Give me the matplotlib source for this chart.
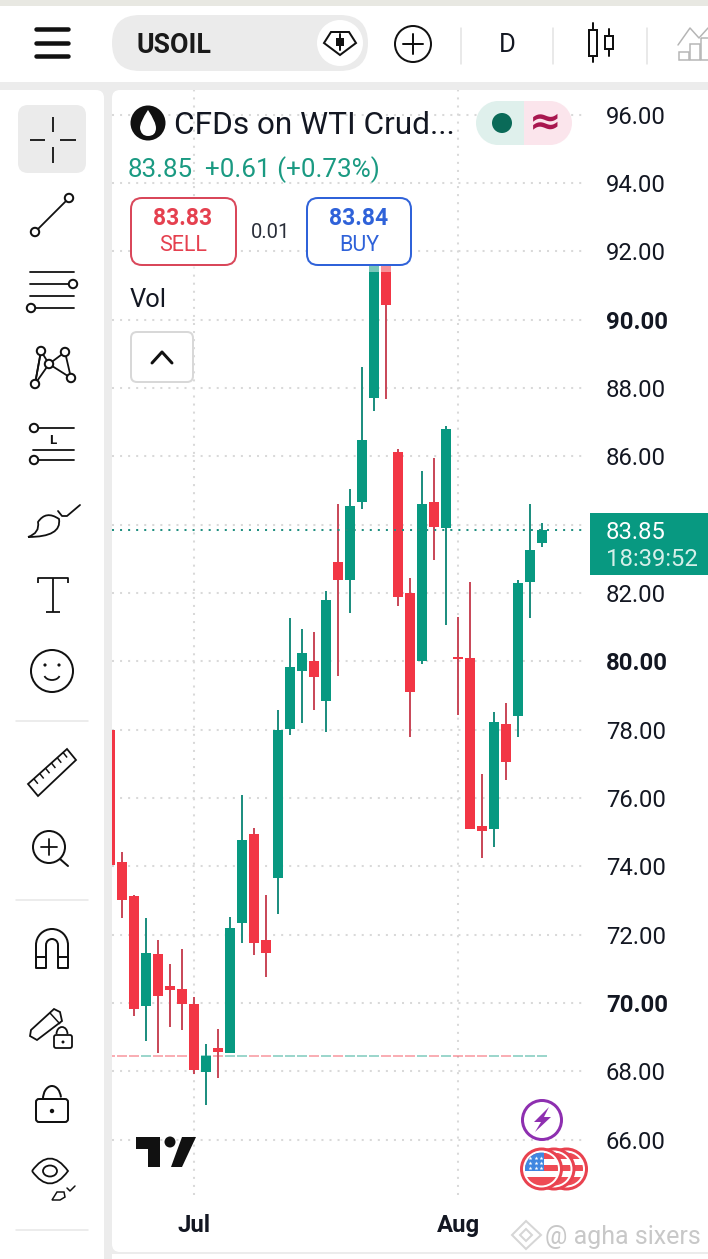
import numpy as np
import matplotlib
matplotlib.use('Agg')
import matplotlib.pyplot as plt
from matplotlib.patches import Circle, FancyBboxPatch, Polygon, Rectangle, Arc, PathPatch, Ellipse
from matplotlib.path import Path

plt.rcParams['font.family'] = ['Roboto', 'DejaVu Sans']

# daily candles
opens = [77.99, 74.13, 73.13, 69.91, 71.43, 70.50, 70.41, 69.97, 67.98, 68.68, 68.53, 72.34,
         74.94, 71.84, 73.66, 78.02, 79.71, 80.01, 78.84, 82.90, 82.38, 84.66, 87.70, 91.90,
         86.12, 82.00, 80.01, 84.66, 83.90, 80.12, 80.09, 75.18, 75.09, 78.16, 78.40, 82.32, 83.46]
highs = [77.99, 74.42, 73.16, 72.49, 71.84, 71.14, 71.58, 70.17, 68.80, 69.24, 72.51, 76.08,
         75.12, 73.16, 78.57, 81.26, 80.94, 80.86, 82.05, 84.60, 85.04, 88.61, 92.30, 92.10,
         86.21, 82.44, 85.57, 85.95, 86.88, 81.29, 82.32, 76.70, 78.51, 78.78, 82.38, 84.60, 84.05]
lows = [74.04, 72.49, 69.62, 68.89, 68.53, 69.30, 69.21, 67.92, 67.01, 67.80, 68.53, 71.75,
        71.40, 70.76, 72.60, 77.84, 78.19, 78.57, 77.93, 79.57, 81.41, 84.45, 87.32, 87.67,
        81.62, 77.78, 79.92, 82.96, 81.06, 78.43, 75.09, 74.24, 74.56, 76.52, 77.78, 81.26, 83.34]
closes = [74.04, 73.01, 69.82, 71.46, 70.20, 70.38, 69.97, 68.04, 68.45, 68.56, 72.19, 74.77,
          71.75, 71.46, 77.99, 79.83, 80.24, 79.54, 81.79, 82.38, 84.54, 86.47, 92.00, 90.42,
          81.88, 79.10, 84.60, 83.93, 86.80, 80.06, 75.09, 75.03, 78.22, 77.05, 82.29, 83.26, 83.84]

price_ticks = [66, 68, 70, 72, 74, 76, 78, 80, 82, 84, 86, 88, 90, 92, 94, 96]
bold_ticks = [70, 80, 90]
hidden_ticks = [84]  # sits under the last price label
month_pos = [7, 29]
month_labels = ['Jul', 'Aug']
last_price = 83.85
prev_close = 68.45

GREEN = '#089981'
RED = '#f23645'
GREEN_WICK = '#1f8f80'
RED_WICK = '#c94a5a'
W, H = 708, 1259
PX = 0.72

fig = plt.figure(figsize=(W / 100, H / 100), dpi=100, facecolor='white')


def px_axes(z):
    a = fig.add_axes([0, 0, 1, 1], zorder=z)
    a.set_xlim(0, W)
    a.set_ylim(H, 0)
    a.axis('off')
    return a


def rbox(a, x, y, w, h, r, **kw):
    p = FancyBboxPatch((x + r, y + r), w - 2 * r, h - 2 * r,
                       boxstyle=f'round,pad={r},rounding_size={r}', **kw)
    a.add_patch(p)
    return p


def stroke(a, xs, ys, lw=2.0, color='#111111', **kw):
    a.plot(xs, ys, color=color, lw=lw * PX, solid_capstyle=kw.pop('cap', 'round'), **kw)


def ring(a, x, y, r, lw=2.0, color='#111111', fc='white'):
    a.add_patch(Circle((x, y), r, fc=fc, ec=color, lw=lw * PX, zorder=5))


# ---- page background
bg = px_axes(0)
bg.add_patch(Rectangle((0, 0), W, 6, fc='#e8e8e2', ec='none'))
bg.add_patch(Rectangle((0, 82), W, 1177, fc='#ececec', ec='none'))
rbox(bg, -20, 90, 124, 1200, 8, fc='white', ec='none')
rbox(bg, 112, 90, 640, 1162, 8, fc='white', ec='none')
bg.add_patch(Rectangle((112, 1254), 596, 5, fc='white', ec='none'))

# ---- chart
x_left, x_right, y_top, y_bottom = 112, 587, 90, 1195
ax = fig.add_axes([x_left / W, 1 - y_bottom / H, (x_right - x_left) / W, (y_bottom - y_top) / H], zorder=1)
ax.patch.set_alpha(0)
for s in ax.spines.values():
    s.set_visible(False)
ax.set_xlim((x_left - 110) / 12, (x_right - 110) / 12)
ax.set_ylim(96 - (y_bottom - 114.5) / 34.17, 96 + (114.5 - y_top) / 34.17)

grid_style = dict(color='#d9d9d9', lw=1.45, linestyle=(0, (1, 3)), zorder=1)
for p in price_ticks:
    ax.axhline(p, **grid_style)
for m in month_pos:
    ax.axvline(m, **grid_style)

idx = np.arange(len(opens))
o, h, l, c = map(np.array, (opens, highs, lows, closes))
up = c >= o
body_col = [GREEN if u else RED for u in up]
wick_col = [GREEN_WICK if u else RED_WICK for u in up]

# per-bar coloured line at the previous close
ax.hlines([prev_close] * len(idx), idx - 0.42, idx + 0.42, colors=body_col, alpha=0.4, lw=2 * PX, zorder=2)
ax.vlines(idx, l, h, colors=wick_col, lw=2 * PX, zorder=3)
ax.bar(idx, np.maximum(np.abs(c - o), 0.06), bottom=np.minimum(o, c), width=10 / 12, color=body_col, zorder=4, lw=0)
ax.axhline(last_price, color=GREEN_WICK, lw=1.45, linestyle=(0, (1, 3)), zorder=5)

ax.yaxis.tick_right()
shown_ticks = [p for p in price_ticks if p not in hidden_ticks]
ax.set_yticks(shown_ticks)
ax.set_yticklabels([f'{p:.2f}' for p in shown_ticks], fontsize=17.2, color='#131722')
for t, p in zip(ax.get_yticklabels(), shown_ticks):
    if p in bold_ticks:
        t.set_fontweight('bold')
ax.set_xticks(month_pos)
ax.set_xticklabels(month_labels, fontsize=17.2, fontweight='bold', color='#131722')
ax.tick_params(axis='y', length=0, pad=13.6)
ax.tick_params(axis='x', length=0, pad=13.4)

# ---- everything around the chart
ui = px_axes(2)

# fade under the buttons
ui.add_patch(Rectangle((112, 265), 300, 7, fc='white', ec='none', alpha=0.45))

# top bar
for y in (29, 43, 56):
    stroke(ui, [36, 68], [y, y], lw=4.5, color='#111111')
rbox(ui, 112, 15, 256, 56, 28, fc='#ebebeb', ec='none')
ui.add_patch(Circle((340, 43), 23, fc='white', ec='none'))
ui.text(136, 45, 'USOIL', fontsize=19.3, fontweight='bold', color='#1a1a1a', va='center')
ui.add_patch(Polygon([(331, 32), (349, 32), (356, 43), (340, 55), (324, 43)], closed=True, fc='white', ec='#111111', lw=2 * PX))
ui.add_patch(Rectangle((336, 38), 8, 8, fc='#111111', ec='none'))
stroke(ui, [340, 340], [34, 50], lw=2)
ring(ui, 413, 44, 18)
stroke(ui, [403, 423], [44, 44], lw=2, zorder=6)
stroke(ui, [413, 413], [34, 54], lw=2, zorder=6)
for x in (461, 553, 647):
    stroke(ui, [x, x], [28, 64], lw=1.5, color='#e2e2e2')
ui.text(507, 45, 'D', fontsize=18.5, color='#131722', ha='center', va='center')
stroke(ui, [593, 593], [23, 62], lw=2)
ui.add_patch(Rectangle((589, 30), 8, 26, fc='white', ec='#111111', lw=2 * PX, zorder=5))
stroke(ui, [609, 609], [29, 56], lw=2)
ui.add_patch(Rectangle((605, 36), 8, 13, fc='white', ec='#111111', lw=2 * PX, zorder=5))
stroke(ui, [678, 690, 699, 708], [45, 28, 38, 28], lw=1.5, color='#b5b5b5')
for x, y0 in ((679, 52), (690, 44), (701, 38)):
    ui.add_patch(Rectangle((x, y0), 10, 60 - y0, fc='none', ec='#b5b5b5', lw=1.5 * PX))

# legend block
ui.add_patch(Circle((148, 123), 17.5, fc='#111111', ec='none'))
ui.add_patch(PathPatch(Path([(148, 110), (140, 122), (140, 128), (141, 136), (148, 136), (156, 136), (156, 128), (156, 122), (148, 110)],
                            [Path.MOVETO, Path.CURVE3, Path.CURVE3, Path.CURVE3, Path.CURVE3, Path.CURVE3, Path.CURVE3, Path.CURVE3, Path.CURVE3]),
                       fc='white', ec='none'))
ui.text(174, 125, 'CFDs on WTI Crud...', fontsize=22.7, color='#131722', va='center')
ui.add_patch(Rectangle((498, 101), 26, 44, fc='#dff0ec', ec='none'))
ui.add_patch(Circle((498, 123), 22, fc='#dff0ec', ec='none'))
ui.add_patch(Rectangle((524, 101), 26, 44, fc='#fbe5ec', ec='none'))
ui.add_patch(Circle((550, 123), 22, fc='#fbe5ec', ec='none'))
ui.add_patch(Circle((502, 123), 10, fc='#0a6a58', ec='none'))
ui.text(545, 122, '≈', fontsize=28, fontweight='bold', color='#a8174f', ha='center', va='center', family=['DejaVu Sans'])
ui.text(128, 170, '83.85', fontsize=18.7, color='#1a9a82', va='center')
ui.text(205, 170, '+0.61 (+0.73%)', fontsize=18.7, color='#1a9a82', va='center')
rbox(ui, 131, 198, 105, 67, 11, fc='white', ec='#d9475a', lw=2 * PX)
ui.text(183, 218, '83.83', fontsize=16.5, fontweight='bold', color='#e5404f', ha='center', va='center')
ui.text(183, 245, 'SELL', fontsize=15.5, color='#e5404f', ha='center', va='center')
ui.text(271, 232, '0.01', fontsize=14.5, color='#2a2e39', ha='center', va='center')
rbox(ui, 307, 198, 104, 67, 11, fc='white', ec='#2f62d9', lw=2 * PX)
ui.text(359, 218, '83.84', fontsize=16.5, fontweight='bold', color='#2f62d9', ha='center', va='center')
ui.text(359, 245, 'BUY', fontsize=15.5, color='#2f62d9', ha='center', va='center')
ui.text(130, 300, 'Vol', fontsize=18.4, color='#131722', va='center')
rbox(ui, 131, 332, 62, 50, 6, fc='white', ec='#d8d8d8', lw=2 * PX)
stroke(ui, [152, 162, 172], [363, 352, 363], lw=3)

# price label
ui.add_patch(Rectangle((590, 513), 118, 62, fc=GREEN, ec='none'))
ui.text(606, 532, '83.85', fontsize=17.2, color='white', va='center')
ui.text(606, 559, '18:39:52', fontsize=17.2, color='#d5efe9', va='center')

# logo
ui.add_patch(Polygon([(136, 1137), (160, 1137), (160, 1167), (148, 1167), (148, 1149), (136, 1149)], closed=True, fc='#111111', ec='none'))
ui.add_patch(Circle((170, 1142), 5.5, fc='#111111', ec='none'))
ui.add_patch(Polygon([(182, 1137), (196, 1137), (182, 1167), (171, 1167)], closed=True, fc='#111111', ec='none'))

# lightning badge
ui.add_patch(Circle((542, 1120), 19.5, fc='white', ec='#8e2fb0', lw=3 * PX))
ui.add_patch(Polygon([(549, 1107), (534, 1122), (541, 1122), (535, 1132), (551, 1117), (544, 1117)], closed=True, fc='#8e2fb0', ec='none'))

# flag badges
for cx in (566.5, 554, 541.5):
    disc = Circle((cx, 1169), 20, fc='white', ec='#e9424f', lw=3 * PX)
    ui.add_patch(disc)
    inner = Circle((cx, 1169), 16.5, transform=ui.transData)
    for yy, hh in ((1153, 6), (1165, 6), (1177, 14)):
        r = Rectangle((cx - 20, yy), 40, hh, fc='#ee4b55', ec='none')
        ui.add_patch(r)
        r.set_clip_path(inner)
    r = Rectangle((cx - 20, 1150), 22, 21, fc='#3f86e0', ec='none')
    ui.add_patch(r)
    r.set_clip_path(inner)
sx, sy = np.meshgrid([530, 536, 541], [1158, 1163, 1168])
ui.scatter(sx.ravel(), sy.ravel(), marker='*', s=9, c='white', lw=0, zorder=6)

# watermark
ui.add_patch(Polygon([(526, 1221), (541, 1235), (526, 1249), (512, 1235)], closed=True, fc='none', ec='#d6d6d6', lw=2 * PX))
ui.add_patch(Polygon([(526, 1229), (532, 1235), (526, 1241), (520, 1235)], closed=True, fc='none', ec='#d6d6d6', lw=2 * PX))
ui.text(545, 1237, '@ agha sixers', fontsize=18, color='#c8c8c8', va='center')

# ---- left toolbar
rbox(ui, 18, 105, 68, 68, 10, fc='#ebebeb', ec='none')
for xs, ys in (([53, 53], [117, 132]), ([53, 53], [147, 163]), ([30, 45], [140, 140]), ([60, 76], [140, 140])):
    stroke(ui, xs, ys, lw=1.8, cap='butt')

stroke(ui, [35, 69], [232, 198], lw=1.8)
ring(ui, 35, 232, 4.2)
ring(ui, 69, 198, 4.2)

for y in (272, 284, 296, 308):
    stroke(ui, [30, 74], [y, y], lw=1.8)
ring(ui, 73, 284, 4.2)
ring(ui, 31, 308, 4.2)

pts = [(41, 351), (65, 352), (35, 384), (71, 378), (49, 364)]
for a_, b_ in ((2, 0), (0, 4), (4, 1), (1, 3), (3, 4), (4, 2), (0, 2)):
    stroke(ui, [pts[a_][0], pts[b_][0]], [pts[a_][1], pts[b_][1]], lw=1.8)
for x, y in pts:
    ring(ui, x, y, 4.2)

stroke(ui, [38, 74], [428, 428], lw=1.8)
stroke(ui, [33, 74], [450, 450], lw=1.8)
stroke(ui, [38, 74], [460, 460], lw=1.8)
ring(ui, 34, 428, 4.2)
ring(ui, 34, 460, 4.2)
ui.text(53, 440, 'L', fontsize=9.5, fontweight='bold', color='#111111', ha='center', va='center')

ui.add_patch(PathPatch(Path([(28, 537), (40, 533), (38, 522), (46, 510), (59, 519), (62, 537), (28, 537)],
                            [Path.MOVETO, Path.CURVE3, Path.CURVE3, Path.CURVE3, Path.CURVE3, Path.CURVE3, Path.CURVE3]),
                       fc='white', ec='#111111', lw=1.8 * PX))
stroke(ui, [58, 62, 67, 80], [511, 516, 516, 505], lw=1.8)

stroke(ui, [38, 38, 68, 68], [583, 578, 578, 583], lw=1.8, cap='butt')
stroke(ui, [53, 53], [578, 612], lw=1.8, cap='butt')
stroke(ui, [46, 60], [612, 612], lw=1.8, cap='butt')

ring(ui, 52, 671, 21, lw=2)
ui.add_patch(Circle((45, 665), 1.6, fc='#111111', ec='none', zorder=6))
ui.add_patch(Circle((59, 665), 1.6, fc='#111111', ec='none', zorder=6))
ui.add_patch(Arc((52, 674), 16, 12, theta1=15, theta2=165, ec='#111111', lw=1.8 * PX, zorder=6))

for y in (721, 900, 1230):
    stroke(ui, [16, 88], [y, y], lw=1.5, color='#e6e6e6')

ui.add_patch(Polygon([(28, 784), (67, 749), (76, 760), (38, 796)], closed=True, fc='white', ec='#111111', lw=1.8 * PX))
for t in (0.15, 0.3, 0.45, 0.6, 0.75, 0.9):
    x0, y0 = 28 + 39 * t, 784 - 35 * t
    stroke(ui, [x0, x0 + 4], [y0, y0 + 5], lw=1.5, cap='butt')

ring(ui, 49, 847, 16, lw=2)
stroke(ui, [41, 57], [847, 847], lw=1.8, zorder=6)
stroke(ui, [49, 49], [839, 855], lw=1.8, zorder=6)
stroke(ui, [60, 68], [859, 866], lw=2)

ui.add_patch(Arc((52, 945), 32, 32, theta1=180, theta2=360, ec='#111111', lw=2 * PX))
ui.add_patch(Arc((52, 945), 12, 12, theta1=180, theta2=360, ec='#111111', lw=2 * PX))
stroke(ui, [36, 36, 46, 46], [945, 968, 968, 945], lw=2, cap='butt')
stroke(ui, [58, 58, 68, 68], [945, 968, 968, 945], lw=2, cap='butt')
stroke(ui, [36, 46], [957, 957], lw=2, cap='butt')
stroke(ui, [58, 68], [957, 957], lw=2, cap='butt')

ui.add_patch(Polygon([(30, 1036), (37, 1040), (62, 1021), (60, 1012), (54, 1009), (31, 1030)], closed=True, fc='white', ec='#111111', lw=1.8 * PX))
stroke(ui, [50, 60], [1013, 1024], lw=1.5, cap='butt')
rbox(ui, 54, 1035, 18, 13, 2, fc='white', ec='#111111', lw=1.8 * PX)
ui.add_patch(Arc((62, 1034), 11, 14, theta1=180, theta2=360, ec='#111111', lw=1.8 * PX))
ui.add_patch(Circle((63, 1042), 1.5, fc='#111111', ec='none', zorder=6))

rbox(ui, 36, 1099, 32, 23, 3, fc='white', ec='#111111', lw=2 * PX)
ui.add_patch(Arc((52, 1099), 18, 26, theta1=180, theta2=350, ec='#111111', lw=2 * PX))
ui.add_patch(Circle((52, 1111), 2.2, fc='#111111', ec='none', zorder=6))

ui.add_patch(PathPatch(Path([(32, 1171), (50, 1146), (68, 1171), (50, 1196), (32, 1171)],
                            [Path.MOVETO, Path.CURVE3, Path.CURVE3, Path.CURVE3, Path.CURVE3]),
                       fc='white', ec='#111111', lw=1.8 * PX))
ui.add_patch(Ellipse((50, 1171), 14, 11, fc='white', ec='#111111', lw=1.8 * PX))
ui.add_patch(Polygon([(52, 1200), (57, 1192), (64, 1192), (65, 1197), (60, 1200)], closed=True, fc='white', ec='#111111', lw=1.5 * PX))
stroke(ui, [67, 70, 75], [1188, 1191, 1186], lw=1.5)

fig.savefig('out.png', dpi=100)
